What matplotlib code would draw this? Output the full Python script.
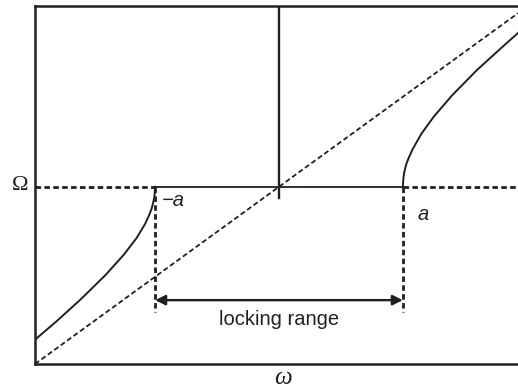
import matplotlib
matplotlib.use("Agg")
import matplotlib.pyplot as plt

INK = "#231f20"

# frequency axis (detuning in units of a) and output frequency offset from Omega
x_min, x_max = -1.97, 1.93
y_min, y_max = -1.97, 2.01

# free-running reference line (no injection)
diag_x = [-1.97, 1.93]
diag_y = [-1.97, 1.93]

# pulled frequency below the locking range
left_x = [-1.97, -1.8, -1.6, -1.4, -1.25, -1.15, -1.08, -1.05, -1.03,
          -1.02, -1.01, -1.005, -1.0]
left_y = [-1.70, -1.50, -1.25, -0.98, -0.75, -0.57, -0.41, -0.32, -0.25,
          -0.20, -0.14, -0.10, 0.0]

# pulled frequency above the locking range
right_x = [1.0, 1.005, 1.01, 1.02, 1.03, 1.05, 1.08, 1.15, 1.25, 1.4, 1.6,
           1.8, 1.93]
right_y = [0.0, 0.10, 0.15, 0.21, 0.26, 0.33, 0.42, 0.59, 0.78, 1.02, 1.30,
           1.55, 1.71]

lock_lo, lock_hi = -1.0, 1.0
arrow_y = -1.26
edge_bottom = -1.39
center_bottom = -0.13


def draw():
    fig = plt.figure(figsize=(5.18, 3.91), dpi=100)
    ax = fig.add_axes([35 / 518, 27 / 391, 1 - 35 / 518, (364 - 6) / 391])
    ax.set_xlim(x_min, x_max)
    ax.set_ylim(y_min, y_max)
    ax.set_xticks([])
    ax.set_yticks([])
    ax.spines["right"].set_visible(False)
    for side in ["left", "top", "bottom"]:
        ax.spines[side].set_linewidth(1.8)
        ax.spines[side].set_color(INK)

    # Omega level: dashed outside the locking range, solid inside
    dash = (0, (2.0, 1.2))
    ax.plot([x_min, lock_lo], [0, 0], color=INK, lw=2.0, ls=dash)
    ax.plot([lock_lo, lock_hi], [0, 0], color=INK, lw=1.3)
    ax.plot([lock_hi, x_max], [0, 0], color=INK, lw=2.0, ls=dash)

    ax.plot(diag_x, diag_y, color=INK, lw=1.3, ls=(0, (2.8, 1.6)))
    ax.plot([0, 0], [center_bottom, y_max], color=INK, lw=1.7)

    ax.plot(left_x, left_y, color=INK, lw=1.4, solid_joinstyle="round")
    ax.plot(right_x, right_y, color=INK, lw=1.4, solid_joinstyle="round")

    for xv in [lock_lo, lock_hi]:
        ax.plot([xv, xv], [0, edge_bottom], color=INK, lw=2.0, ls=dash)

    ax.annotate("", xy=(lock_lo, arrow_y), xytext=(lock_hi, arrow_y),
                arrowprops=dict(arrowstyle="<|-|>", color=INK, lw=1.7,
                                mutation_scale=15, shrinkA=0, shrinkB=0))
    ax.text(0, -1.48, "locking range", ha="center", va="center",
            fontsize=14.5, family="Liberation Sans", color=INK)

    ax.text(-0.95, -0.15, "\u2212a", ha="left", va="center", fontsize=14.5,
            family="Liberation Sans", style="italic", color=INK)
    ax.text(1.12, -0.31, "a", ha="left", va="center", fontsize=14.5,
            family="Liberation Sans", style="italic", color=INK)

    fig.text(20 / 518, 1 - 186 / 391, "\u03a9", ha="center", va="center",
             fontsize=16, family="Liberation Serif", color=INK)
    fig.text(283 / 518, 1 - 378 / 391, "\u03c9", ha="center", va="center",
             fontsize=18, family="Liberation Serif", style="italic",
             color=INK)

    fig.savefig("out.png", dpi=100)


if __name__ == "__main__":
    draw()
